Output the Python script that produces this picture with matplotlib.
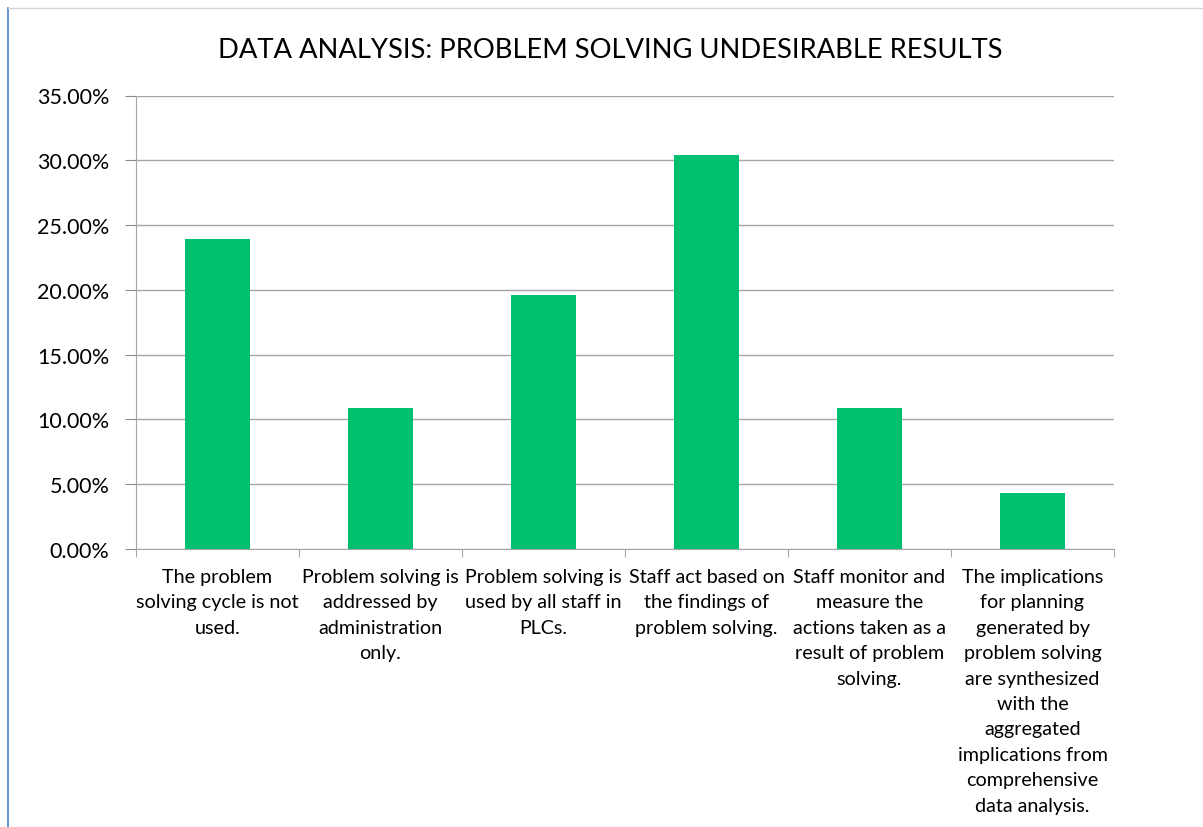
import matplotlib.pyplot as plt
from matplotlib.lines import Line2D
from matplotlib.ticker import FuncFormatter

categories = [
    "The problem\nsolving cycle is not\nused.",
    "Problem solving is\naddressed by\nadministration\nonly.",
    "Problem solving is\nused by all staff in\nPLCs.",
    "Staff act based on\nthe findings of\nproblem solving.",
    "Staff monitor and\nmeasure the\nactions taken as a\nresult of problem\nsolving.",
    "The implications\nfor planning\ngenerated by\nproblem solving\nare synthesized\nwith the\naggregated\nimplications from\ncomprehensive\ndata analysis.",
]
values = [23.91, 10.87, 19.57, 30.43, 10.87, 4.35]
y_ticks = [0, 5, 10, 15, 20, 25, 30, 35]

plt.rcParams['font.family'] = ['Lato', 'DejaVu Sans']

fig = plt.figure(figsize=(12.03, 8.28), dpi=100)
W, H = 1203, 828
ax = fig.add_axes([136 / W, 1 - 550 / H, (1114 - 136) / W, (550 - 96.5) / H])

x = range(len(values))
ax.bar(x, values, width=0.4, color='#00BF6F', zorder=3)

ax.set_xlim(-0.5, len(values) - 0.5)
ax.set_ylim(0, 35)
ax.set_yticks(y_ticks)
ax.yaxis.set_major_formatter(FuncFormatter(lambda v, p: "%.2f%%" % v))
ax.tick_params(axis='y', labelsize=15.5, length=8, color='#8c8c8c', pad=11)
ax.grid(axis='y', color='#a6a6a6', linewidth=1, zorder=0)

# category labels between boundary ticks
ax.set_xticks([i - 0.5 for i in range(len(values) + 1)])
ax.set_xticklabels([])
ax.tick_params(axis='x', length=6, color='#a6a6a6')
for i, lab in enumerate(categories):
    ax.annotate(lab, xy=(i, 0), xycoords=('data', 'axes fraction'),
                xytext=(0, -19), textcoords='offset pixels',
                ha='center', va='top', fontsize=14.2, linespacing=1.6)

for s in ['top', 'right']:
    ax.spines[s].set_visible(False)
ax.spines['left'].set_color('#a6a6a6')
ax.spines['bottom'].set_color('#a6a6a6')

fig.text(0.507, 1 - 50 / H, "DATA ANALYSIS: PROBLEM SOLVING UNDESIRABLE RESULTS",
         ha='center', va='center', fontsize=19.7)

# outer frame lines
fig.add_artist(Line2D([8 / W, 8 / W], [0, 1 - 9 / H], color='#4a7fd0', linewidth=1.2))
fig.add_artist(Line2D([8 / W, 1], [1 - 9 / H, 1 - 9 / H], color='#d4d4d4', linewidth=1))

fig.savefig("out.png", dpi=100)
